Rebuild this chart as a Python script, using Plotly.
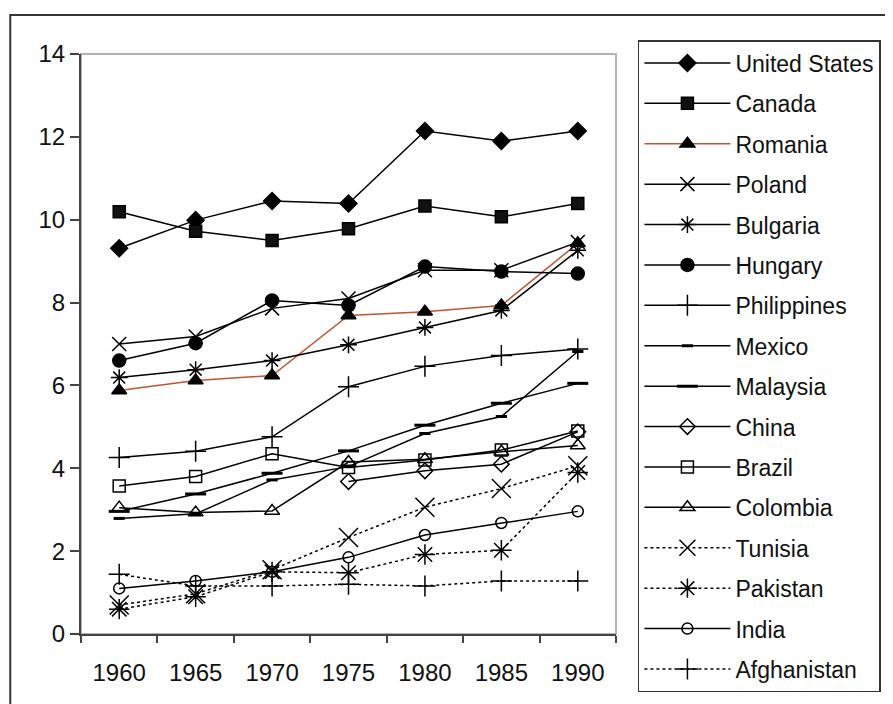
import plotly.graph_objects as go

years = ["1960", "1965", "1970", "1975", "1980", "1985", "1990"]

united_states = [9.31, 9.99, 10.45, 10.39, 12.14, 11.90, 12.14]
canada        = [10.19, 9.72, 9.50, 9.78, 10.33, 10.07, 10.39]
romania       = [5.88, 6.12, 6.24, 7.69, 7.78, 7.93, 9.43]
poland        = [7.00, 7.18, 7.86, 8.10, 8.78, 8.78, 9.46]
bulgaria      = [6.19, 6.38, 6.60, 6.98, 7.40, 7.81, 9.26]
hungary       = [6.60, 7.02, 8.05, 7.93, 8.87, 8.75, 8.70]
philippines   = [4.26, 4.41, 4.76, 5.97, 6.46, 6.72, 6.88]
mexico        = [2.79, 2.90, 3.72, 4.04, 4.84, 5.25, 6.82]
malaysia      = [2.96, 3.38, 3.88, 4.42, 5.04, 5.57, 6.05]
china         = [None, None, None, 3.68, 3.94, 4.10, 4.88]
brazil        = [3.57, 3.80, 4.35, 4.02, 4.20, 4.44, 4.90]
colombia      = [3.05, 2.93, 2.97, 4.15, 4.22, 4.40, 4.55]
tunisia       = [0.70, 0.97, 1.55, 2.33, 3.06, 3.51, 4.06]
pakistan      = [0.60, 0.90, 1.50, 1.48, 1.92, 2.02, 3.90]
india         = [1.10, 1.28, 1.50, 1.85, 2.39, 2.68, 2.96]
afghanistan   = [1.44, 1.16, 1.16, 1.20, 1.16, 1.28, 1.28]

series = [
    ("United States", united_states, "diamond", 13, "black", "solid", "#000"),
    ("Canada", canada, "square", 12, "#111", "solid", "#000"),
    ("Romania", romania, "triangle-up", 13, "black", "solid", "#c0562f"),
    ("Poland", poland, "x-thin-open", 14, "black", "solid", "#000"),
    ("Bulgaria", bulgaria, "asterisk-open", 14, "black", "solid", "#000"),
    ("Hungary", hungary, "circle", 13, "black", "solid", "#000"),
    ("Philippines", philippines, "cross-thin-open", 15, "black", "solid", "#000"),
    ("Mexico", mexico, "line-ew-open", 8, "black", "solid", "#000"),
    ("Malaysia", malaysia, "line-ew-open", 15, "black", "solid", "#000"),
    ("China", china, "diamond-open", 12, "black", "solid", "#000"),
    ("Brazil", brazil, "square-open", 12, "black", "solid", "#000"),
    ("Colombia", colombia, "triangle-up-open", 13, "black", "solid", "#000"),
    ("Tunisia", tunisia, "x-thin-open", 19, "black", "dot", "#000"),
    ("Pakistan", pakistan, "asterisk-open", 17, "black", "dot", "#000"),
    ("India", india, "circle-open", 11, "black", "solid", "#000"),
    ("Afghanistan", afghanistan, "cross-thin-open", 15, "black", "dot", "#000"),
]

fig = go.Figure()
xs = list(range(len(years)))
for name, vals, sym, size, mcol, dash, lcol in series:
    lw = 3 if sym == "line-ew-open" else 1.5
    fig.add_trace(go.Scatter(
        x=xs, y=vals, name=name, mode="lines+markers",
        legendgroup=name,
        line=dict(color=lcol, width=1.5, dash=dash),
        marker=dict(symbol=sym, size=size, color=mcol,
                    line=dict(color="black", width=lw)),
        connectgaps=False,
    ))

# page body has an 8px margin, so work in coordinates shifted by 8
OFF = 8
W, H = 893 - OFF, 704 - OFF
L, R, T, B = 81 - OFF, 618 - OFF, 54 - OFF, 634 - OFF
pw, ph = R - L, B - T

def px_x(p):
    return (p - OFF - L) / pw

def px_y(p):
    return (B - (p - OFF)) / ph

fig.update_layout(
    width=W, height=H,
    margin=dict(l=L, r=W - R, t=T, b=H - B),
    paper_bgcolor="white", plot_bgcolor="white",
    font=dict(family="Liberation Sans, Arial, sans-serif", size=24, color="#111"),
    showlegend=True,
    legend=dict(
        x=px_x(640), y=px_y(40), xanchor="left", yanchor="top",
        bordercolor="#333", borderwidth=1.5, bgcolor="white",
        font=dict(size=23, color="#111"),
        itemwidth=86, traceorder="grouped", tracegroupgap=7.5,
        maxheight=690,
    ),
    xaxis=dict(
        range=[-0.5, 6.5], tickmode="array", tickvals=xs, ticktext=years,
        ticks="", showgrid=False, zeroline=False,
        showline=True, linecolor="#444", linewidth=2,
        ticklabelstandoff=16,
        minor=dict(tickmode="array", tickvals=[i - 0.5 for i in range(8)],
                   ticks="outside", ticklen=7, tickwidth=1.5, tickcolor="#444",
                   showgrid=False),
    ),
    yaxis=dict(
        range=[0, 14], tickmode="linear", tick0=0, dtick=2,
        ticks="outside", ticklen=9, tickwidth=1.5, tickcolor="#444",
        showgrid=False, zeroline=False,
        showline=True, linecolor="#444", linewidth=2,
        ticklabelstandoff=0,
    ),
    shapes=[
        dict(type="rect", xref="paper", yref="paper", x0=0, x1=1, y0=0, y1=1,
             line=dict(color="#b4b4b4", width=2), layer="below"),
        dict(type="rect", xref="paper", yref="paper",
             x0=px_x(10), x1=px_x(940), y0=px_y(760), y1=px_y(15),
             line=dict(color="#333", width=2), layer="below"),
    ],
)

fig.write_html("out.html")
